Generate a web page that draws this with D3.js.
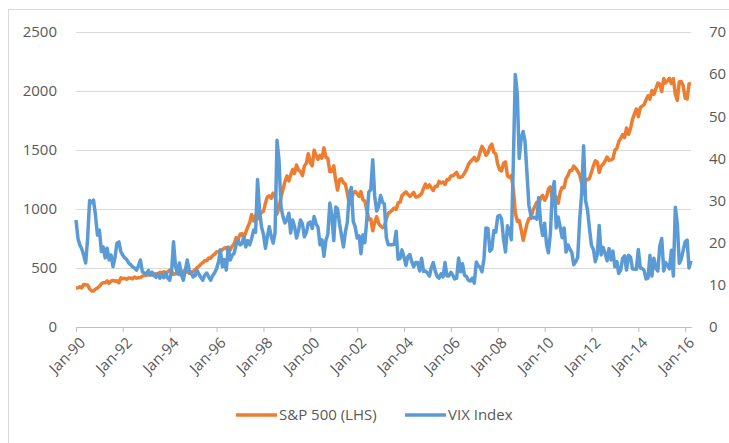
<!DOCTYPE html>
<html>
<head>
<meta charset="utf-8">
<script src="https://cdn.jsdelivr.net/npm/d3@7"></script>
<style>
  body { margin: 0; background: #fff; }
  svg { display: block; font-family: "Open Sans", sans-serif; }
</style>
</head>
<body>
<svg id="chart" width="729" height="443"></svg>
<script>
// monthly closes, Jan 1990 .. Apr 2016
const startMonth = new Date(1990, 0, 1);

const spx = [
  329, 332, 340, 331, 361, 358, 356, 323, 306, 304, 322, 330,
  344, 367, 375, 375, 390, 371, 388, 395, 388, 392, 375, 417,
  409, 413, 404, 415, 415, 408, 424, 414, 418, 419, 431, 436,
  439, 443, 452, 440, 450, 451, 448, 464, 459, 468, 462, 466,
  482, 467, 446, 451, 457, 444, 458, 475, 463, 472, 454, 459,
  470, 487, 501, 515, 533, 545, 562, 562, 584, 582, 605, 616,
  636, 640, 646, 654, 669, 671, 640, 652, 687, 705, 757, 741,
  786, 791, 757, 801, 848, 885, 954, 899, 947, 915, 955, 970,
  980, 1049, 1102, 1112, 1091, 1134, 1121, 957, 1017, 1099, 1164, 1229,
  1280, 1238, 1286, 1335, 1302, 1373, 1329, 1320, 1283, 1363, 1389, 1469,
  1394, 1366, 1499, 1452, 1421, 1455, 1431, 1518, 1437, 1429, 1315, 1320,
  1366, 1240, 1160, 1249, 1256, 1224, 1211, 1134, 1041, 1060, 1139, 1148,
  1130, 1107, 1147, 1077, 1067, 990, 912, 916, 815, 886, 936, 880,
  856, 841, 848, 917, 964, 975, 990, 1008, 996, 1051, 1058, 1112,
  1131, 1145, 1126, 1107, 1121, 1141, 1102, 1104, 1115, 1130, 1174, 1212,
  1181, 1204, 1181, 1157, 1192, 1191, 1234, 1220, 1229, 1207, 1249, 1248,
  1280, 1281, 1295, 1311, 1270, 1270, 1277, 1304, 1336, 1378, 1401, 1418,
  1438, 1407, 1421, 1482, 1531, 1503, 1455, 1474, 1527, 1549, 1481, 1468,
  1379, 1331, 1323, 1386, 1400, 1280, 1267, 1283, 1166, 969, 896, 903,
  826, 735, 798, 873, 919, 919, 987, 1021, 1057, 1036, 1096, 1115,
  1074, 1104, 1169, 1187, 1089, 1031, 1102, 1049, 1141, 1183, 1181, 1258,
  1286, 1327, 1326, 1364, 1345, 1321, 1292, 1219, 1131, 1253, 1247, 1258,
  1312, 1366, 1408, 1398, 1310, 1362, 1379, 1407, 1441, 1412, 1416, 1426,
  1498, 1515, 1569, 1598, 1631, 1606, 1686, 1633, 1682, 1757, 1806, 1848,
  1783, 1859, 1872, 1884, 1924, 1960, 1931, 2003, 1972, 2018, 2068, 2059,
  1995, 2105, 2068, 2086, 2107, 2063, 2104, 1972, 1920, 2079, 2080, 2044,
  1940, 1932, 2060, 2065
];

const vix = [
  25.4, 21.0, 19.5, 18.5, 17.0, 15.2, 21.0, 30.0, 29.5, 30.1, 26.5, 21.8,
  23.0, 17.9, 19.0, 16.4, 18.7, 15.9, 17.1, 14.3, 16.5, 19.9, 20.2, 17.9,
  17.0, 16.4, 16.0, 15.2, 14.8, 14.3, 14.0, 13.5, 14.5, 15.9, 13.1, 12.8,
  12.6, 13.4, 12.3, 13.0, 12.2, 11.8, 12.5, 11.6, 12.4, 11.7, 12.8, 11.6,
  11.1, 13.5, 20.2, 14.5, 12.7, 15.2, 12.5, 11.1, 13.5, 15.9, 13.5, 12.8,
  11.9, 12.2, 13.5, 12.5, 11.8, 11.1, 12.3, 12.8, 11.9, 11.1, 12.2, 12.8,
  13.8, 15.5, 18.3, 14.3, 16.0, 13.5, 19.0, 15.9, 17.0, 17.5, 19.5, 20.6,
  19.5, 19.8, 21.4, 19.0, 20.5, 19.5, 21.0, 23.0, 22.5, 35.0, 27.8, 23.8,
  22.0, 18.7, 21.3, 23.8, 21.6, 19.9, 22.3, 44.3, 39.5, 28.5, 26.2, 24.7,
  25.4, 27.0, 22.3, 25.4, 23.8, 21.1, 22.8, 25.4, 24.5, 21.4, 22.4, 24.6,
  24.9, 23.4, 26.2, 24.5, 23.6, 19.5, 20.7, 16.8, 20.6, 22.0, 29.4, 26.5,
  20.5, 28.5, 28.0, 24.5, 21.8, 19.0, 22.5, 24.9, 31.9, 33.1, 25.0, 23.8,
  21.1, 21.6, 17.4, 21.9, 20.0, 25.6, 32.0, 32.6, 39.7, 31.1, 27.5, 28.6,
  31.2, 29.6, 29.2, 21.2, 19.5, 19.5, 19.5, 19.6, 22.7, 16.1, 16.3, 18.3,
  16.6, 14.6, 16.7, 17.2, 15.5, 14.3, 15.3, 15.3, 13.3, 16.3, 13.2, 13.3,
  12.8, 12.1, 14.0, 15.3, 13.3, 12.0, 11.6, 12.6, 11.9, 15.3, 12.1, 12.1,
  13.0, 12.3, 11.4, 11.6, 16.4, 13.1, 15.0, 12.3, 12.0, 11.1, 10.9, 11.6,
  10.4, 15.4, 14.6, 14.2, 13.1, 16.2, 23.5, 23.4, 18.0, 18.5, 22.9, 22.5,
  26.2, 26.5, 25.6, 20.8, 17.8, 24.0, 22.9, 20.7, 39.4, 59.9, 55.3, 40.0,
  44.8, 46.4, 44.1, 36.5, 28.9, 26.4, 25.9, 26.0, 25.6, 30.7, 24.5, 21.7,
  24.6, 19.5, 17.6, 22.1, 32.1, 34.5, 23.5, 26.1, 23.7, 21.2, 23.5, 17.8,
  19.5, 18.4, 17.7, 14.8, 15.5, 16.5, 25.3, 31.6, 43.0, 30.0, 27.8, 23.4,
  19.4, 18.4, 15.5, 17.2, 24.1, 17.1, 18.9, 17.5, 15.7, 18.6, 15.9, 18.0,
  14.3, 15.5, 12.7, 13.5, 16.3, 16.9, 13.5, 17.0, 16.6, 13.8, 13.7, 13.7,
  18.4, 14.0, 13.9, 13.4, 11.4, 11.6, 17.0, 12.1, 16.3, 14.0, 13.3, 19.2,
  21.0, 13.3, 15.3, 14.6, 13.8, 18.2, 12.1, 28.4, 24.5, 15.1, 16.1, 18.2,
  20.2, 20.6, 14.0, 15.7
];

const leftTicks = [0, 500, 1000, 1500, 2000, 2500];
const rightTicks = [0, 10, 20, 30, 40, 50, 60, 70];
const seriesNames = ["S&P 500 (LHS)", "VIX Index"];
const seriesColors = ["#ed7d31", "#5b9bd5"];

const months = spx.map((d, i) => d3.timeMonth.offset(startMonth, i));
const xTicks = d3.timeYear.every(2).range(new Date(1990, 0, 1), new Date(2016, 1, 1));

const layout = { left: 76, right: 691, top: 32, bottom: 327 };
const textColor = "#595959";
const fontSize = 15;

const svg = d3.select("#chart");

// outer chart border
svg.append("rect")
  .attr("x", 8.5).attr("y", 9.5)
  .attr("width", 740).attr("height", 450)
  .attr("fill", "none").attr("stroke", "#d9d9d9");

const x = d3.scaleTime()
  .domain([months[0], months[months.length - 1]])
  .range([layout.left, layout.right]);

const yLeft = d3.scaleLinear().domain([0, 2500]).range([layout.bottom, layout.top]);
const yRight = d3.scaleLinear().domain([0, 70]).range([layout.bottom, layout.top]);

// gridlines
svg.append("g")
  .attr("transform", `translate(${layout.left},0)`)
  .call(d3.axisLeft(yLeft).tickValues(leftTicks).tickSize(-(layout.right - layout.left)).tickFormat(""))
  .call(g => g.select(".domain").remove())
  .call(g => g.selectAll("line").attr("stroke", "#d9d9d9"));

// left axis labels
svg.append("g")
  .attr("transform", `translate(${layout.left},0)`)
  .call(d3.axisLeft(yLeft).tickValues(leftTicks).tickSize(0).tickPadding(19).tickFormat(d3.format("d")))
  .call(g => g.select(".domain").remove())
  .call(g => g.selectAll("text")
    .attr("fill", textColor).style("font-size", fontSize + "px")
    .style("font-family", "Open Sans"));

// right axis labels
svg.append("g")
  .attr("transform", `translate(${layout.right},0)`)
  .call(d3.axisRight(yRight).tickValues(rightTicks).tickSize(0).tickPadding(18))
  .call(g => g.select(".domain").remove())
  .call(g => g.selectAll("text")
    .attr("fill", textColor).style("font-size", fontSize + "px")
    .style("font-family", "Open Sans"));

// bottom axis
svg.append("g")
  .attr("transform", `translate(0,${layout.bottom})`)
  .call(d3.axisBottom(x).tickValues(xTicks).tickSize(5).tickFormat(d3.timeFormat("%b-%y")))
  .call(g => g.select(".domain").attr("stroke", "#bfbfbf").attr("d", `M${layout.left},0.5H${layout.right + 1}`))
  .call(g => g.selectAll("line").attr("stroke", "#bfbfbf"))
  .call(g => g.selectAll("text")
    .attr("fill", textColor).style("font-size", fontSize + "px")
    .style("font-family", "Open Sans")
    .attr("text-anchor", "end")
    .attr("y", 0).attr("dy", "0.35em")
    .attr("transform", "translate(6,13) rotate(-45)"));

// lines
const lineLeft = d3.line().x((d, i) => x(months[i])).y(d => yLeft(d));
const lineRight = d3.line().x((d, i) => x(months[i])).y(d => yRight(d));

svg.append("path")
  .datum(spx)
  .attr("d", lineLeft)
  .attr("fill", "none")
  .attr("stroke", seriesColors[0])
  .attr("stroke-width", 3.5)
  .attr("stroke-linejoin", "round");

svg.append("path")
  .datum(vix)
  .attr("d", lineRight)
  .attr("fill", "none")
  .attr("stroke", seriesColors[1])
  .attr("stroke-width", 3.5)
  .attr("stroke-linejoin", "round");

// legend
const legendPos = [236, 405];
const legend = svg.append("g").attr("transform", "translate(0,415)");
seriesNames.forEach((name, i) => {
  legend.append("line")
    .attr("x1", legendPos[i]).attr("x2", legendPos[i] + 41)
    .attr("y1", 0).attr("y2", 0)
    .attr("stroke", seriesColors[i]).attr("stroke-width", 3.5);
  legend.append("text")
    .attr("x", legendPos[i] + 43).attr("y", 0).attr("dy", "0.35em")
    .attr("fill", textColor).style("font-size", fontSize + "px")
    .text(name);
});
</script>
</body>
</html>
